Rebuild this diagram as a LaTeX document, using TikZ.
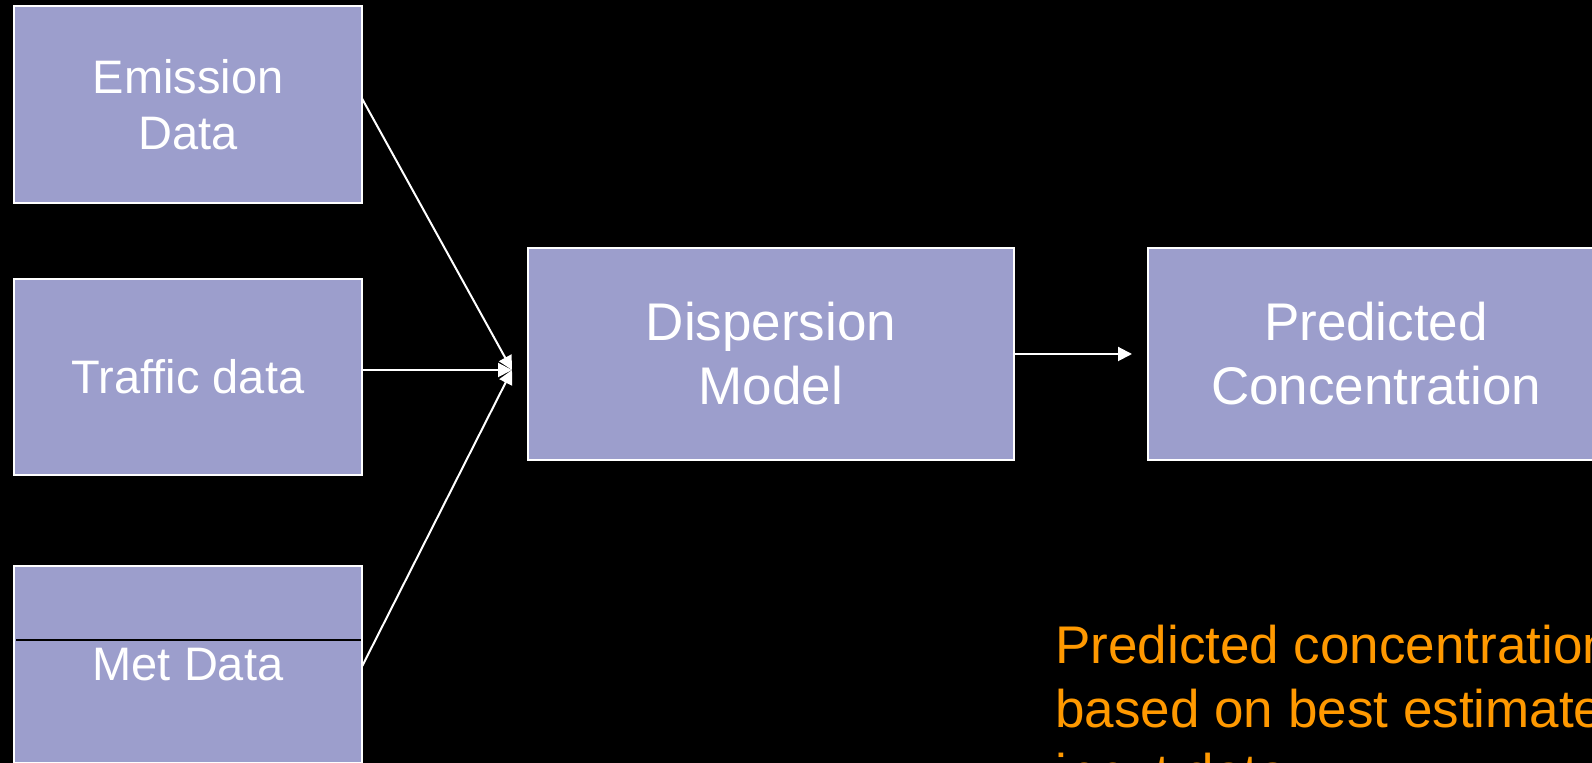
\documentclass[tikz,border=0pt]{standalone}
\usepackage{fontspec}
\setmainfont{Liberation Sans}
\usetikzlibrary{arrows.meta,calc}
\definecolor{boxfill}{RGB}{156,158,204}
\definecolor{notecol}{RGB}{255,153,0}
\tikzset{
  databox/.style={draw=white, line width=1pt, fill=boxfill, inner sep=0pt, outer sep=0pt,
    anchor=north west, align=center, text=white,
    font=\fontsize{23.5}{28.2}\selectfont},
  bigbox/.style={databox, font=\fontsize{26.5}{32}\selectfont},
  flow/.style={draw=white, line width=1pt, -{Triangle[length=7pt,width=7pt]}},
  note/.style={anchor=base west, align=left, text=notecol, inner sep=0pt,
    font=\fontsize{26.5}{32}\selectfont}
}
\begin{document}
\begin{tikzpicture}[x=0.5pt,y=-0.5pt]
\useasboundingbox (0,0) rectangle (1592,763);
\clip (0,0) rectangle (1592,763);
\fill[black] (0,0) rectangle (1592,763);

\node[databox, minimum width=174pt, minimum height=98.5pt] (emit) at (14,6) {Emission\\Data};
\node[databox, minimum width=174pt, minimum height=98pt] (traffic) at (14,279) {Traffic data};
\node[databox, minimum width=174pt, minimum height=98.5pt] (met) at (14,566) {Met Data};
\draw[black, line width=0.6pt] (16,640) -- (361,640);

\node[bigbox, minimum width=243pt, minimum height=106pt] (disp) at (528,248) {Dispersion\\Model};
\node[bigbox, minimum width=228pt, minimum height=106pt] (pred) at (1148,248) {Predicted\\Concentration};

\coordinate (join) at (512,370);
\draw[flow] ([yshift=3pt]emit.east) -- (join);
\draw[flow] (traffic.east |- join) -- (join);
\draw[flow] ([yshift=-1pt]met.east) -- (join);
\draw[flow, shorten >=8pt] (disp.east) -- (disp.east -| pred.west);

\node[note] (txt) at (1055,792) {Predicted concentration\\based on best estimate\\input data};
\end{tikzpicture}
\end{document}
